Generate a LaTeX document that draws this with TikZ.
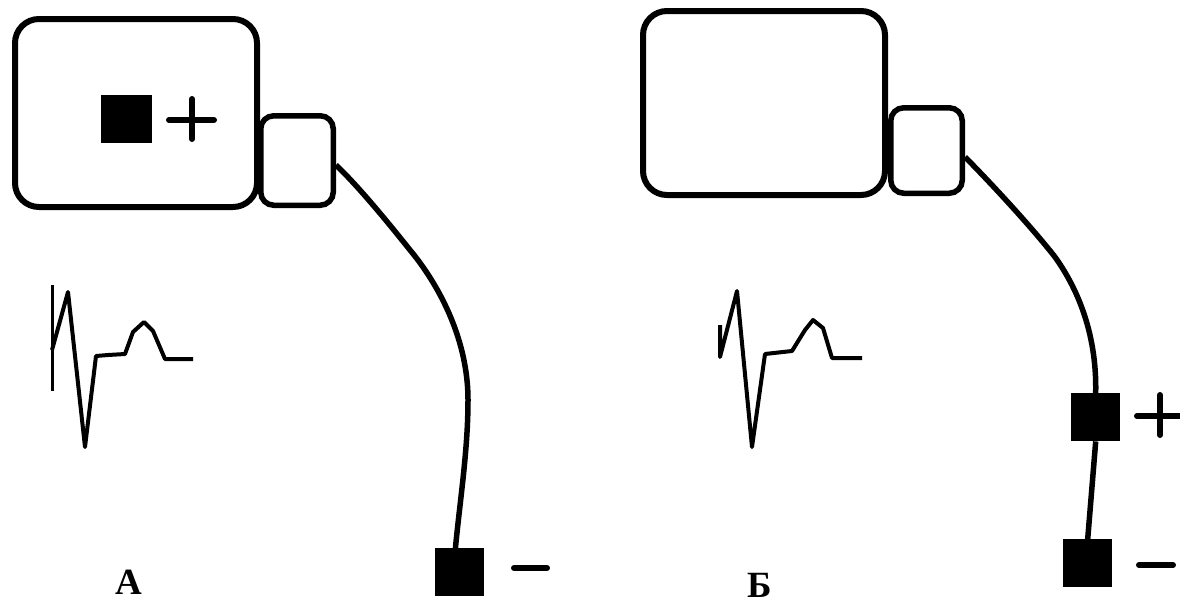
\documentclass[tikz,border=0pt]{standalone}
\usepackage{fontspec}
\setmainfont{Liberation Serif}
\begin{document}
\begin{tikzpicture}[x=1pt,y=-1pt,
  monitor/.style={draw=black,line width=6pt,rounded corners=24pt,minimum width=242pt,minimum height=188pt,inner sep=0pt,anchor=north west},
  adapter/.style={draw=black,line width=5.5pt,rounded corners=13pt,minimum width=72.5pt,minimum height=89.5pt,inner sep=0pt,anchor=north west},
  electrode/.style={fill=black,draw=none,minimum width=49pt,minimum height=48pt,inner sep=0pt,anchor=north west},
  stroke/.style={line width=6pt,line cap=round,draw=black},
  cable/.style={line width=5.5pt,draw=black},
  ecg/.style={line width=4pt,draw=black,line join=round},
  caption/.style={font=\bfseries\fontsize{37pt}{37pt}\selectfont,inner sep=0pt}]
\useasboundingbox (0,0) rectangle (1180,603);
% A
\node[monitor] (monA) at (12,16) {};
\node[adapter] (adA) at (258,113) {};
\node[electrode,minimum width=51pt] (posA) at (101,95) {};
\node[electrode] (negA) at (435,548) {};
\coordinate (pA1) at (169,120); \coordinate (pA2) at (214,120);
\coordinate (pA3) at (192,99); \coordinate (pA4) at (192,139);
\coordinate (mA1) at (514,568); \coordinate (mA2) at (547,568);
\draw[stroke] (pA1) -- (pA2);
\draw[stroke] (pA3) -- (pA4);
\draw[stroke] (mA1) -- (mA2);
\coordinate (cA0) at (adA.east |- 0,165);
\draw[cable] (cA0) .. controls (360,188) and (390,225) .. (410,250)
  .. controls (435,280) and (468,335) .. (468,400)
  .. controls (468,450) and (460,500) .. (negA.100);
\node[caption] (capA) at (128.5,582.5) {А};
% B
\node[monitor,minimum height=184pt] (monB) at (640,8) {};
\node[adapter,minimum height=85.5pt,minimum width=71.5pt] (adB) at (888,105) {};
\node[electrode] (posB) at (1071,393) {};
\node[electrode] (negB) at (1063,539) {};
\coordinate (pB1) at (1137,416); \coordinate (pB2) at (1183,416);
\coordinate (pB3) at (1160,395); \coordinate (pB4) at (1160,435);
\coordinate (mB1) at (1139,565); \coordinate (mB2) at (1173,565);
\draw[stroke] (pB1) -- (pB2);
\draw[stroke] (pB3) -- (pB4);
\draw[stroke] (mB1) -- (mB2);
\coordinate (cB0) at (adB.east |- 0,157);
\draw[cable] (cB0) .. controls (985,177) and (1030,225) .. (1055,257)
  .. controls (1075,285) and (1097,330) .. (posB.north);
\draw[cable] (posB.south) -- (negB.north);
\node[caption] (capB) at (760,585) {Б};
% ECG traces
\draw[line width=3pt] (52,285) -- (52,391);
\draw[ecg] (52,350) -- (68,292) -- (85,447) -- (96,356) -- (108,355) -- (125,354)
  -- (133,332) -- (144,322) -- (153,331) -- (165,359) -- (193,359);
\draw[ecg] (720,325) -- (720,357) -- (737,291) -- (752,447) -- (765,354) -- (792,351)
  -- (805,330) -- (813,320) -- (823,328) -- (832,358) -- (862,358);
\end{tikzpicture}
\end{document}
